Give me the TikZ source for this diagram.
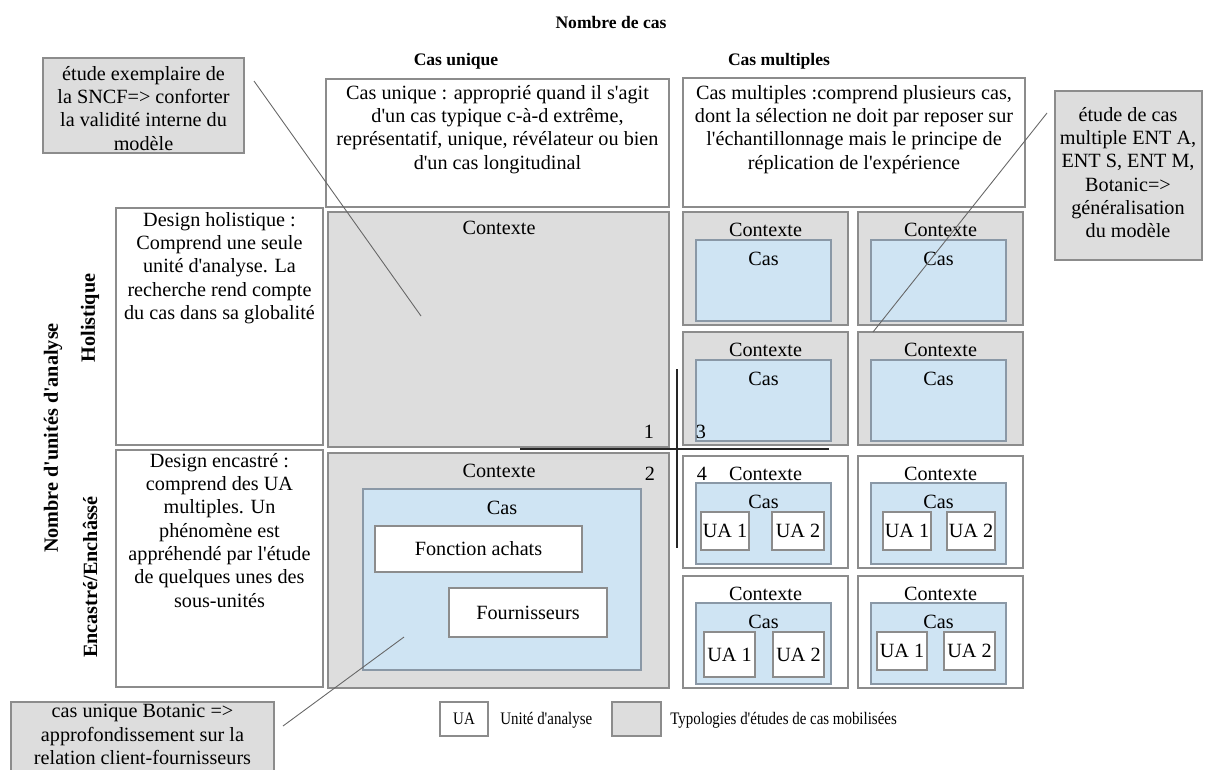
\documentclass[tikz,border=0pt]{standalone}
\usepackage{fontspec}
\setmainfont{Liberation Serif}[Ligatures=TeXOff]
\newfontfamily\narrowfont{Liberation Serif}[Ligatures=TeXOff,FakeStretch=0.85]
\usetikzlibrary{fit}

\definecolor{ctxgray}{HTML}{DDDDDD}
\definecolor{casblue}{HTML}{CFE4F3}
\definecolor{edgegray}{HTML}{8C8C8C}
\definecolor{edgeblue}{HTML}{8A98A6}

\tikzset{
  box/.style = {draw=edgegray, fill=white, inner sep=0pt, line width=0.6pt},
  ctxbox/.style = {box, fill=ctxgray},
  casbox/.style = {box, draw=edgeblue, fill=casblue},
  txt/.style = {align=center, inner sep=0pt, font=\fontsize{11.5}{13.25}\selectfont},
  head/.style = {inner sep=0pt, font=\bfseries\fontsize{10}{12}\selectfont},
  axislbl/.style = {inner sep=0pt, rotate=90, font=\bfseries\fontsize{11.5}{13.25}\selectfont},
  legend/.style = {inner sep=0pt, font=\narrowfont\fontsize{10}{12}\selectfont},
  leader/.style = {draw=black!60, line width=0.5pt},
  cross/.style = {draw=black!85, line width=0.9pt},
}

\begin{document}
\begin{tikzpicture}[x=0.02cm, y=-0.02cm]
    \useasboundingbox (0,0) rectangle (1206,769);

    % headings
    \node[head] (nbcas) at (611,22) {Nombre de cas};
    \node[head] (hunique) at (456,61) {Cas unique};
    \node[head] (hmult) at (779,61) {Cas multiples};
    \node[axislbl] (nbua) at (53,438) {Nombre d'unités d'analyse};
    \node[axislbl] (hholi) at (90,318) {Holistique};
    \node[axislbl] (henc) at (90,577) {Encastré/Enchâssé};

    % description boxes
    \node[box, fit={(326,79) (669,207)}] (uniq) {};
    \node[txt, anchor=north] (uniqtxt) at (497.5,85) {Cas unique : approprié quand il s'agit\\ d'un cas typique c-à-d extrême,\\ représentatif, unique, révélateur ou bien\\ d'un cas longitudinal};
    \node[box, fit={(683,78) (1025,207)}] (mult) {};
    \node[txt, anchor=north] (multtxt) at (854,85) {Cas multiples :comprend plusieurs cas,\\ dont la sélection ne doit par reposer sur\\ l'échantillonnage mais le principe de\\ réplication de l'expérience};
    \node[box, fit={(116,208) (323,445)}] (dholi) {};
    \node[txt, anchor=north] (dholitxt) at (219.5,212) {Design holistique :\\ Comprend une seule\\ unité d'analyse. La\\ recherche rend compte\\ du cas dans sa globalité};
    \node[box, fit={(116,450) (323,687)}] (denc) {};
    \node[txt, anchor=north] (denctxt) at (219.5,453) {Design encastré :\\ comprend des UA\\ multiples. Un\\ phénomène est\\ appréhendé par l'étude\\ de quelques unes des\\ sous-unités};

    % single case
    \node[ctxbox, fit={(328,212) (669,447)}] (sholi) {};
    \node[txt, anchor=base] (sholictx) at (499,234) {Contexte};
    \node[txt] (n1) at (649,432) {1};
    \node[ctxbox, fit={(328,453) (669,688)}] (senc) {};
    \node[txt, anchor=base] (senctx) at (499,477) {Contexte};
    \node[txt] (n2) at (650,474) {2};
    \node[casbox, fit={(363,489) (641,670)}] (senccas) {};
    \node[txt, anchor=base] (senccaslbl) at (502,514) {Cas};
    \node[box, fit={(375,526) (582,572)}] (achats) {};
    \node[txt] (achatslbl) at (achats) {Fonction achats};
    \node[box, fit={(449,588) (607,637)}] (fourn) {};
    \node[txt] (fournlbl) at (fourn) {Fournisseurs};

    % multiple cases, holistic
    \foreach \name/\x/\y in {hA/683/212, hB/858/212, hC/683/332, hD/858/332} {
        \node[ctxbox, fit={(\x,\y) (\x+165,\y+113)}] (\name) {};
        \node[txt, anchor=base] (\name ctx) at (\x+82.5,\y+24) {Contexte};
        \node[casbox, fit={(\x+13,\y+28) (\x+148,\y+109)}] (\name cas) {};
        \node[txt, anchor=base] (\name caslbl) at (\x+80.5,\y+53) {Cas};
    }
    \node[txt] (n3) at (701,432) {3};

    % multiple cases, embedded
    \foreach \name/\x/\y/\pa/\pb/\pc/\pd/\bot in {eA/683/456/701/749/772/824/550, eB/858/456/883/931/947/995/550, eC/683/576/704/755/773/824/677, eD/858/576/877/927/944/995/670} {
        \node[box, fit={(\x,\y) (\x+165,\y+112)}] (\name) {};
        \node[txt, anchor=base] (\name ctx) at (\x+82.5,\y+24) {Contexte};
        \node[casbox, fit={(\x+13,\y+27) (\x+148,\y+108)}] (\name cas) {};
        \node[txt, anchor=base] (\name caslbl) at (\x+80.5,\y+52) {Cas};
        \node[box, fit={(\pa,\y+56) (\pb,\bot)}] (\name ua1) {};
        \node[txt] (\name ua1lbl) at (\name ua1) {UA 1};
        \node[box, fit={(\pc,\y+56) (\pd,\bot)}] (\name ua2) {};
        \node[txt] (\name ua2lbl) at (\name ua2) {UA 2};
    }
    \node[txt] (n4) at (702,474) {4};

    % cross
    \coordinate (vtop) at (677,369);
    \coordinate (vbot) at (677,548);
    \coordinate (hleft) at (520,449);
    \coordinate (hright) at (829,449);
    \draw[cross] (vtop) -- (vbot);
    \draw[cross] (hleft) -- (hright);

    % notes
    \node[ctxbox, fit={(43,58) (244,153)}] (noteTL) {};
    \node[txt, anchor=north] (noteTLtxt) at (143.5,66) {étude exemplaire de\\ la SNCF=> conforter\\ la validité interne du\\ modèle};
    \node[ctxbox, fit={(1055,91) (1202,260)}] (noteTR) {};
    \node[txt, anchor=north] (noteTRtxt) at (1128,107) {étude de cas\\ multiple ENT A,\\ ENT S, ENT M,\\ Botanic=>\\ généralisation\\ du modèle};
    \begin{scope}
        \clip (0,0) rectangle (1206,769);
        \node[ctxbox, fit={(11,702) (274,790)}] (noteBL) {};
    \end{scope}
    \node[txt, anchor=north] (noteBLtxt) at (142.5,704) {cas unique Botanic =>\\ approfondissement sur la\\ relation client-fournisseurs};

    \coordinate (tlA) at (254,81);
    \coordinate (tlB) at (421,316);
    \coordinate (trA) at (1047,113);
    \coordinate (trB) at (873,332);
    \coordinate (blA) at (404,637);
    \coordinate (blB) at (283,726);
    \draw[leader] (tlA) -- (tlB);
    \draw[leader] (trA) -- (trB);
    \draw[leader] (blA) -- (blB);

    % legend
    \node[box, fit={(440,702) (488,736)}] (legua) {};
    \node[legend] (legualbl) at (legua) {UA};
    \node[legend, anchor=west] (leguatxt) at (500,720) {Unité d'analyse};
    \node[ctxbox, fit={(612,702) (661,736)}] (legctx) {};
    \node[legend, anchor=west] (legctxtxt) at (670,720) {Typologies d'études de cas mobilisées};
\end{tikzpicture}
\end{document}
